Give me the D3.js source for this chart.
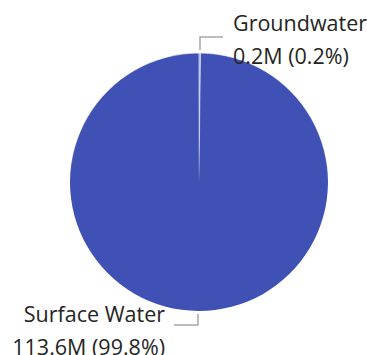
<!DOCTYPE html>
<html>
<head>
<meta charset="utf-8">
<script src="https://cdn.jsdelivr.net/npm/d3@7"></script>
<style>
  html, body { margin: 0; padding: 0; background: #fff; }
  svg { display: block; }
  .lbl { font-family: "Segoe UI", "Open Sans", "Noto Sans", sans-serif; fill: #252423; }
</style>
</head>
<body>
<svg id="chart" width="367" height="355"></svg>
<script>
// Water withdrawals by source (millions)
const categories = ["Groundwater", "Surface Water"];
const values = [0.2, 113.6];
const colors = ["#3F51B5", "#3F51B5"];

const width = 367, height = 355;
const cx = 199, cy = 182, radius = 129;
const fontSize = 21.5, lineGap = 33;

const svg = d3.select("#chart");
const g = svg.append("g").attr("transform", `translate(${cx},${cy})`);

const total = d3.sum(values);
const data = categories.map((c, i) => ({ name: c, value: values[i], color: colors[i] }));

const pie = d3.pie().sort(null).value(d => d.value);
const arc = d3.arc().innerRadius(0).outerRadius(radius);
const arcs = pie(data);

// Slice borders fade toward the centre
const grad = svg.append("defs").append("linearGradient")
  .attr("id", "edge").attr("gradientUnits", "userSpaceOnUse")
  .attr("x1", 0).attr("y1", -radius).attr("x2", 0).attr("y2", 0);
grad.append("stop").attr("offset", "0%").attr("stop-color", "#fff").attr("stop-opacity", 0.85);
grad.append("stop").attr("offset", "70%").attr("stop-color", "#fff").attr("stop-opacity", 0.45);
grad.append("stop").attr("offset", "100%").attr("stop-color", "#fff").attr("stop-opacity", 0);

g.selectAll("path.slice")
  .data(arcs)
  .join("path")
  .attr("class", "slice")
  .attr("d", arc)
  .attr("fill", d => d.data.color)
  .attr("stroke", "url(#edge)")
  .attr("stroke-width", 0.8);

const fmtPct = d3.format(".1%");

arcs.forEach(a => {
  const mid = (a.startAngle + a.endAngle) / 2;
  const px = Math.sin(mid) * radius;
  const py = -Math.cos(mid) * radius;
  const up = py < 0;
  const right = px >= 0 || up;
  const x0 = Math.round(px);
  const y0 = up ? py - 3 : py + 3;
  const yElbow = up ? py - 16 : py + 14;
  const xEnd = right ? x0 + 23 : x0 - 24;

  g.append("path")
    .attr("d", `M${x0},${y0}V${yElbow}H${xEnd}`)
    .attr("fill", "none")
    .attr("stroke", "#a6a6a6")
    .attr("stroke-width", 1.5);

  const tx = right ? xEnd + 10 : xEnd - 9;
  const anchor = right ? "start" : "end";
  const base = up ? yElbow - 6 : yElbow - 3;

  const t = g.append("text")
    .attr("class", "lbl")
    .attr("font-size", fontSize)
    .attr("text-anchor", anchor);
  t.append("tspan").attr("x", tx).attr("y", base).text(a.data.name);
  t.append("tspan").attr("x", tx).attr("y", base + lineGap)
    .text(`${d3.format(".1f")(a.data.value)}M (${fmtPct(a.data.value / total)})`);
});
</script>
</body>
</html>
